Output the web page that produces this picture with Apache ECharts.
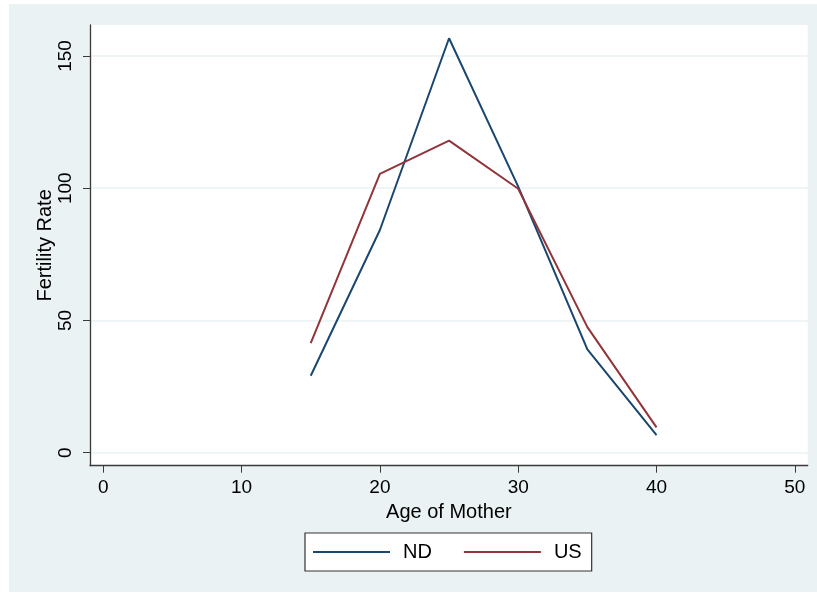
<!DOCTYPE html>
<html>
<head>
<meta charset="utf-8">
<script src="https://cdn.jsdelivr.net/npm/echarts@6/dist/echarts.min.js"></script>
<style>
html,body{margin:0;padding:0;background:#ffffff;}
#chart{width:817px;height:596px;}
</style>
</head>
<body>
<div id="chart"></div>
<script>
var ages = [15, 20, 25, 30, 35, 40];
var ndRate = [29.1, 84.2, 156.7, 100.6, 39.1, 6.7];
var usRate = [41.4, 105.4, 118.0, 99.8, 47.5, 9.6];
var xTicks = [0, 10, 20, 30, 40, 50];
var yTicks = [0, 50, 100, 150];

function pairs(xs, ys) { return xs.map(function (x, i) { return [x, ys[i]]; }); }

var chart = echarts.init(document.getElementById('chart'), null, {renderer: 'canvas'});
var font = 'Liberation Sans, Arial, Helvetica, sans-serif';
var axisCol = '#3a3a3a';
chart.setOption({
  animation: false,
  backgroundColor: '#ffffff',
  graphic: [{
    type: 'rect', z: -10, silent: true,
    shape: {x: 9, y: 4, width: 808, height: 588},
    style: {fill: '#eaf2f3'}
  }],
  grid: {left: 90, top: 25, right: 9.3, bottom: 130.3, show: true, backgroundColor: '#ffffff', borderWidth: 0, z: 0},
  xAxis: {
    type: 'value', min: -0.96, max: 50.93,
    name: 'Age of Mother', nameLocation: 'middle', nameGap: 37, nameMoveOverlap: false,
    nameTextStyle: {fontFamily: font, fontSize: 20, color: '#000'},
    axisLine: {show: true, onZero: false, lineStyle: {color: axisCol, width: 1.3}},
    axisTick: {show: true, inside: false, length: 7, customValues: xTicks, lineStyle: {color: axisCol}},
    axisLabel: {customValues: xTicks, margin: 13, fontFamily: font, fontSize: 19, color: '#000'},
    splitLine: {show: false}
  },
  yAxis: {
    type: 'value', min: -4.9, max: 161.7,
    name: 'Fertility Rate', nameLocation: 'middle', nameGap: 35, nameRotate: 90, nameMoveOverlap: false,
    nameTextStyle: {fontFamily: font, fontSize: 20, color: '#000'},
    axisLine: {show: true, onZero: false, lineStyle: {color: axisCol, width: 1.3}},
    axisTick: {show: true, inside: false, length: 7, customValues: yTicks, lineStyle: {color: axisCol}},
    axisLabel: {customValues: yTicks, rotate: 90, margin: 15, fontFamily: font, fontSize: 19, color: '#000'},
    splitLine: {show: true, lineStyle: {color: '#eaf2f3', width: 1.5}}
  },
  legend: {
    left: 305, top: 533,
    orient: 'horizontal',
    itemWidth: 77, itemHeight: 2, itemGap: 32,
    icon: 'rect',
    padding: [9, 10, 9, 8],
    borderColor: '#333', borderWidth: 1.2, backgroundColor: '#ffffff',
    textStyle: {fontFamily: font, fontSize: 20, color: '#000', padding: [0, 0, 0, 8]},
    data: ['ND', 'US']
  },
  series: [
    {name: 'ND', type: 'line', data: pairs(ages, ndRate), symbol: 'none', color: '#1a476f', lineStyle: {width: 2, color: '#1a476f'}},
    {name: 'US', type: 'line', data: pairs(ages, usRate), symbol: 'none', color: '#90353b', lineStyle: {width: 2, color: '#90353b'}}
  ]
});
</script>
</body>
</html>
